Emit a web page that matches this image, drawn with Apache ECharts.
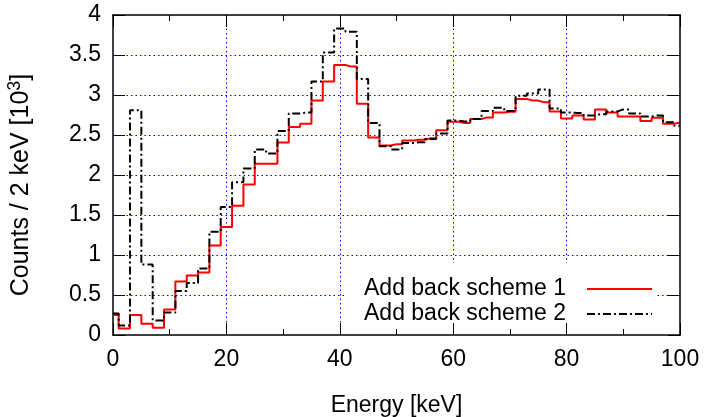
<!DOCTYPE html>
<html>
<head>
<meta charset="utf-8">
<script src="https://cdn.jsdelivr.net/npm/echarts@6/dist/echarts.min.js"></script>
<style>
  html, body { margin: 0; padding: 0; background: #fff; }
  #chart { width: 704px; height: 417px; }
</style>
</head>
<body>
<div id="chart"></div>
<script>
// Bin centres of the 2 keV histogram (keV)
const energy = [0, 2, 4, 6, 8, 10, 12, 14, 16, 18, 20, 22, 24, 26, 28, 30, 32, 34, 36, 38,
  40, 42, 44, 46, 48, 50, 52, 54, 56, 58, 60, 62, 64, 66, 68, 70, 72, 74, 76, 78,
  80, 82, 84, 86, 88, 90, 92, 94, 96, 98, 100];

// Counts per 2 keV in units of 10^3
const scheme1 = [0.25, 0.08, 0.25, 0.14, 0.09, 0.32, 0.67, 0.745, 0.78, 1.12,
  1.35, 1.615, 1.88, 2.14, 2.14, 2.405, 2.60, 2.64, 2.93, 3.17,
  3.375, 3.355, 2.89, 2.47, 2.37, 2.385, 2.43, 2.44, 2.46, 2.56,
  2.665, 2.65, 2.70, 2.72, 2.78, 2.79, 2.95, 2.93, 2.91, 2.795,
  2.705, 2.745, 2.695, 2.82, 2.78, 2.73, 2.73, 2.675, 2.715, 2.64, 2.655];

const scheme2 = [0.27, 0.12, 2.81, 0.88, 0.18, 0.28, 0.55, 0.65, 0.83, 1.29,
  1.60, 1.91, 2.08, 2.32, 2.27, 2.55, 2.77, 2.78, 3.17, 3.53,
  3.83, 3.79, 3.20, 2.65, 2.36, 2.32, 2.40, 2.41, 2.45, 2.52,
  2.68, 2.67, 2.70, 2.80, 2.84, 2.80, 2.99, 3.02, 3.07, 2.83,
  2.78, 2.775, 2.745, 2.76, 2.795, 2.82, 2.77, 2.73, 2.745, 2.66, 2.615];

const seriesNames = ['Add back scheme 1', 'Add back scheme 2'];

const FONT = '"Liberation Sans", Arial, sans-serif';
const FS = 23;
const gridDots = { color: '#0000ff', width: 1, type: [1.5, 3] };

function pairs(xs, ys) { return xs.map((x, i) => [x, ys[i]]); }

const chart = echarts.init(document.getElementById('chart'), null, { renderer: 'canvas' });

const xCommon = {
  type: 'value', min: 0, max: 100, interval: 20,
  axisLine: { show: true, onZero: false, lineStyle: { color: '#000', width: 1.5 } },
  axisTick: { show: true, inside: true, length: 12, lineStyle: { color: '#000', width: 1 } },
  minorTick: { show: true, splitNumber: 2, length: 6, lineStyle: { color: '#000', width: 1 } }
};
const yCommon = {
  type: 'value', min: 0, max: 4, interval: 0.5,
  axisLine: { show: true, onZero: false, lineStyle: { color: '#000', width: 1.5 } },
  axisTick: { show: true, inside: true, length: 12, lineStyle: { color: '#000', width: 1 } }
};

chart.setOption({
  animation: false,
  backgroundColor: '#fff',
  grid: { left: 113, right: 24, top: 15, bottom: 82, containLabel: false, outerBoundsMode: 'none' },
  xAxis: [
    Object.assign({}, xCommon, {
      position: 'bottom', z: 3,
      name: 'Energy [keV]', nameLocation: 'middle', nameGap: 59,
      nameTextStyle: { fontFamily: FONT, fontSize: FS, color: '#000' },
      axisLabel: { show: true, margin: 13, fontFamily: FONT, fontSize: FS, color: '#000',
        showMinLabel: true, showMaxLabel: true },
      splitLine: { show: false }
    }),
    Object.assign({}, xCommon, {
      position: 'top', z: 0,
      axisLabel: { show: false },
      splitLine: { show: true, showMinLine: false, showMaxLine: false, lineStyle: gridDots }
    })
  ],
  yAxis: [
    Object.assign({}, yCommon, {
      position: 'left', z: 0,
      name: 'Counts / 2 keV [10{sup|3}]', nameLocation: 'middle', nameGap: 76, nameRotate: 90,
      nameTextStyle: { fontFamily: FONT, fontSize: 25, color: '#000', padding: [0, 20, 0, 0],
        rich: { sup: { fontFamily: FONT, fontSize: 18, color: '#000', padding: [0, 0, 13, 0] } } },
      axisLabel: { show: true, margin: 12, fontFamily: FONT, fontSize: FS, color: '#000' },
      splitLine: { show: true, showMinLine: false, showMaxLine: false, lineStyle: gridDots }
    }),
    Object.assign({}, yCommon, {
      position: 'right', z: 3,
      axisLabel: { show: false },
      splitLine: { show: false }
    })
  ],
  legend: {
    z: 1,
    orient: 'vertical', align: 'right',
    left: 347, top: 263,
    padding: [14, 3, 9, 17],
    itemGap: 1, itemWidth: 65, itemHeight: 14,
    backgroundColor: '#fff',
    itemStyle: { opacity: 0 },
    textStyle: { fontFamily: FONT, fontSize: FS, color: '#000', lineHeight: 24, padding: [0, 16, 0, 0] },
    data: seriesNames
  },
  series: [
    {
      name: seriesNames[0], type: 'line', step: 'middle', symbol: 'none', z: 2,
      xAxisIndex: 0, yAxisIndex: 0,
      lineStyle: { color: '#ff0000', width: 2 },
      itemStyle: { color: '#ff0000' },
      data: pairs(energy, scheme1)
    },
    {
      name: seriesNames[1], type: 'line', step: 'middle', symbol: 'none', z: 2,
      xAxisIndex: 0, yAxisIndex: 0,
      lineStyle: { color: '#000', width: 2, type: [8, 3, 2, 3] },
      itemStyle: { color: '#000' },
      data: pairs(energy, scheme2)
    }
  ]
});
</script>
</body>
</html>
